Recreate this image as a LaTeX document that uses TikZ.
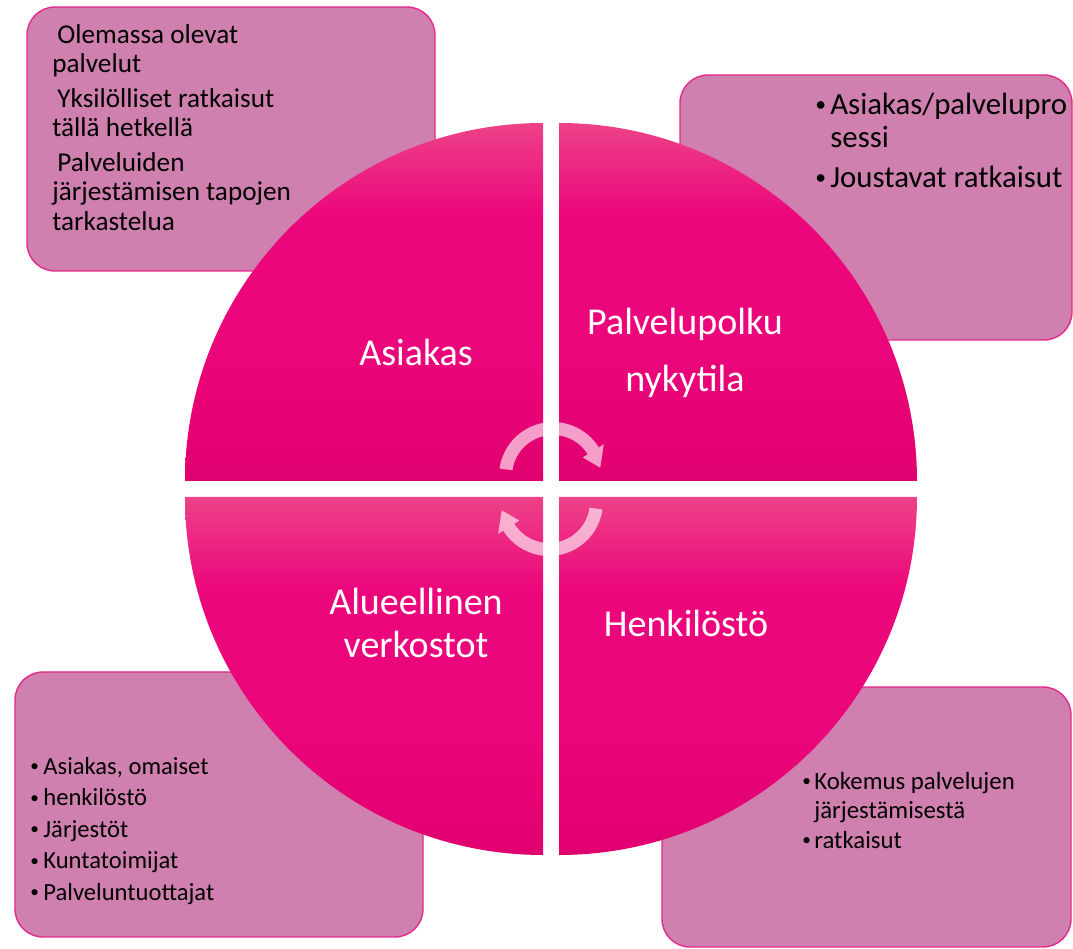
\documentclass[tikz,border=0pt]{standalone}
\usepackage{fontspec}
\setmainfont{Carlito}
\usepackage{tikz}
\usetikzlibrary{calc,positioning}
\definecolor{notefill}{RGB}{207,128,174}
\definecolor{noterim}{RGB}{229,40,140}
\definecolor{quadlight}{RGB}{237,66,136}
\definecolor{quadmid}{RGB}{236,6,124}
\definecolor{quaddark}{RGB}{225,0,111}
\pgfdeclareverticalshading{quadshade}{100bp}{color(0bp)=(quaddark); color(25bp)=(quaddark);
  color(45bp)=(quadmid); color(62bp)=(quadmid); color(75bp)=(quadlight); color(100bp)=(quadlight)}
\newcommand{\bul}[1]{\makebox[#1][l]{\raisebox{0.12em}{\scalebox{0.7}{•}}}}
\tikzset{notebox/.style={rectangle, rounded corners=14pt, draw=noterim, fill=notefill,
  line width=0.7pt}}
\tikzset{notetext/.style={inner sep=0pt, anchor=north west, align=left, text=black}}
\tikzset{quadpart/.style={shading=quadshade}}
\tikzset{quadlabel/.style={text=white, align=center, inner sep=0pt,
  font=\fontsize{19}{28.5}\selectfont}}
\tikzset{turnarrow/.style={fill=white, fill opacity=0.62}}

\begin{document}
\begin{tikzpicture}[x=0.5pt,y=0.5pt]
  \useasboundingbox (0,0) rectangle (1073,949);
  % corner notes
  \node[notebox, minimum width=204pt, minimum height=132pt] (tlbox) at (231,810) {};
  \node[notebox, minimum width=196pt, minimum height=132.5pt] (trbox) at (876,741.5) {};
  \node[notebox, minimum width=204pt, minimum height=132.5pt] (blbox) at (219,144.5) {};
  \node[notebox, minimum width=204.5pt, minimum height=130pt] (brbox) at (866.5,132) {};
  % four quarters of the wheel
  \coordinate (hub) at (551,460);
  \shade[quadpart] (543,468) -- ++(-358,0) arc[start angle=180, end angle=90, radius=358] -- cycle;
  \shade[quadpart] (559,468) -- ++(0,358) arc[start angle=90, end angle=0, radius=358] -- cycle;
  \shade[quadpart] (543,452) -- ++(0,-358) arc[start angle=270, end angle=180, radius=358] -- cycle;
  \shade[quadpart] (559,452) -- ++(358,0) arc[start angle=0, end angle=-90, radius=358] -- cycle;
  \node[quadlabel] (asiakas) at (416,597) {Asiakas};
  \node[quadlabel] (polku) at (685,596) {Palvelupolku\\nykytila};
  \node[quadlabel, font=\fontsize{19}{21.5}\selectfont] (alue) at (416,326) {Alueellinen\\verkostot};
  \node[quadlabel] (henki) at (686,326) {Henkilöstö};
  % turning arrows
  \begin{scope}[shift={(553,473)}]
    \fill[turnarrow] (172:54) arc[start angle=172, end angle=32, radius=54] -- (32:60) -- (10:48)
      -- (32:35) -- (32:41) arc[start angle=32, end angle=172, radius=41] -- cycle;
  \end{scope}
  \begin{scope}[shift={(549,447)}, rotate=180]
    \fill[turnarrow] (172:54) arc[start angle=172, end angle=32, radius=54] -- (32:60) -- (10:48)
      -- (32:35) -- (32:41) arc[start angle=32, end angle=172, radius=41] -- cycle;
  \end{scope}
  % note texts
  \node[notetext, font=\fontsize{13.6}{14.75}\selectfont] (tltext) at (52,925)
    {\hspace*{2.5pt}Olemassa olevat\\palvelut\\[2.5pt]\hspace*{2.5pt}Yksilölliset ratkaisut\\tällä hetkellä\\[2.5pt]\hspace*{2.5pt}Palveluiden\\järjestämisen tapojen\\tarkastelua};
  \node[notetext, font=\fontsize{15.4}{16.5}\selectfont] (trtext) at (815,856)
    {\bul{7.5pt}Asiakas/palvelupro\\\hspace*{7.5pt}sessi\\[3.5pt]\bul{7.5pt}Joustavat ratkaisut};
  \node[notetext, font=\fontsize{12.3}{15.75}\selectfont] (bltext) at (30,192)
    {\bul{6.5pt}Asiakas, omaiset\\\bul{6.5pt}henkilöstö\\\bul{6.5pt}Järjestöt\\\bul{6.5pt}Kuntatoimijat\\\bul{6.5pt}Palveluntuottajat};
  \node[notetext, font=\fontsize{12.4}{14.5}\selectfont] (brtext) at (802,177)
    {\bul{6pt}Kokemus palvelujen\\\hspace*{6pt}järjestämisestä\\[0.5pt]\bul{6pt}ratkaisut};
\end{tikzpicture}
\end{document}
